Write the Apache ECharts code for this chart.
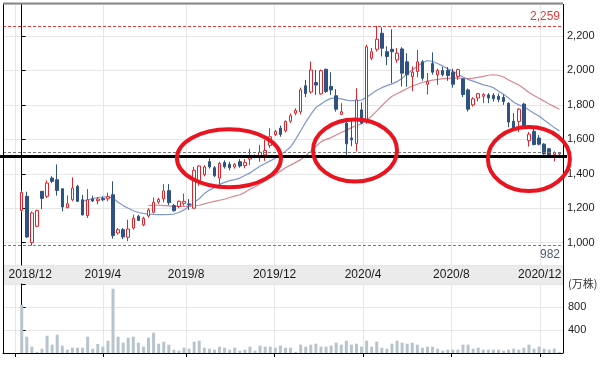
<!DOCTYPE html>
<html><head><meta charset="utf-8">
<script src="https://cdn.jsdelivr.net/npm/echarts@6/dist/echarts.min.js"></script>
<style>html,body{margin:0;padding:0;background:#fff}#c{width:613px;height:381px}</style>
</head><body><div id="c"></div>
<script>
// Weekly candles (week of 2019-04-29 had no trading days and is absent)
const weeks = [
'2018-12-10','2018-12-17','2018-12-24','2018-12-31',
'2019-01-07','2019-01-14','2019-01-21','2019-01-28','2019-02-04','2019-02-11','2019-02-18','2019-02-25',
'2019-03-04','2019-03-11','2019-03-18','2019-03-25','2019-04-01','2019-04-08','2019-04-15','2019-04-22',
'2019-05-06','2019-05-13','2019-05-20','2019-05-27','2019-06-03','2019-06-10','2019-06-17','2019-06-24',
'2019-07-01','2019-07-08','2019-07-15','2019-07-22','2019-07-29','2019-08-05','2019-08-12','2019-08-19','2019-08-26',
'2019-09-02','2019-09-09','2019-09-16','2019-09-23','2019-09-30','2019-10-07','2019-10-14','2019-10-21','2019-10-28',
'2019-11-04','2019-11-11','2019-11-18','2019-11-25','2019-12-02','2019-12-09','2019-12-16','2019-12-23','2019-12-30',
'2020-01-06','2020-01-13','2020-01-20','2020-01-27','2020-02-03','2020-02-10','2020-02-17','2020-02-24',
'2020-03-02','2020-03-09','2020-03-16','2020-03-23','2020-03-30','2020-04-06','2020-04-13','2020-04-20','2020-04-27',
'2020-05-04','2020-05-11','2020-05-18','2020-05-25','2020-06-01','2020-06-08','2020-06-15','2020-06-22','2020-06-29',
'2020-07-06','2020-07-13','2020-07-20','2020-07-27','2020-08-03','2020-08-10','2020-08-17','2020-08-24','2020-08-31',
'2020-09-07','2020-09-14','2020-09-21','2020-09-28','2020-10-05','2020-10-12','2020-10-19','2020-10-26',
'2020-11-02','2020-11-09','2020-11-16','2020-11-23','2020-11-30','2020-12-07','2020-12-14','2020-12-21','2020-12-28'];

const opens = [1187,1269,1000,1095,1298,1269,1375,1365,1313,1203,1249,1327,1249,1157,1253,1244,1257,1255,1278,1056,
1075,1031,1085,1153,1103,1155,1176,1236,1255,1302,1215,1210,1228,1225,1200,1360,1395,1470,1435,1375,
1465,1455,1440,1470,1448,1485,1505,1500,1510,1565,1628,1665,1650,1705,1752,1760,1911,1875,1930,1864,
2007,1907,1853,1745,1694,1607,1575,1771,1713,2071,2123,2216,2109,2123,2061,2125,2050,1965,1994,
2050,1920,2040,1975,2000,2000,1990,1965,1950,1887,1800,1840,1850,1858,1855,1850,1843,1810,1705,1704,
1805,1592,1646,1607,1572,1545,1512,1515];
const closes = [1292,1033,1172,1186,1257,1346,1356,1303,1207,1226,1317,1240,1161,1249,1242,1253,1249,1267,1041,1075,
1033,1079,1141,1129,1141,1190,1234,1250,1300,1232,1185,1240,1240,1220,1420,1445,1440,1440,1388,1460,
1440,1435,1455,1445,1465,1505,1498,1525,1535,1615,1645,1628,1704,1737,1768,1887,1866,2003,1915,1999,
1878,1887,1775,1760,1574,1597,1829,1694,2138,2109,2181,2129,2081,2109,2100,1984,1975,1990,2050,
1955,1936,1990,2000,1975,1970,1920,2005,1860,1775,1835,1865,1860,1840,1835,1832,1820,1700,1660,1775,
1680,1630,1570,1572,1515,1505,1522,1522];
const lows = [1176,1027,982,1090,1195,1259,1346,1273,1182,1199,1240,1236,1157,1143,1236,1222,1240,1240,1023,1046,
1021,1008,1075,1127,1095,1145,1170,1225,1235,1218,1180,1200,1215,1190,1195,1330,1385,1430,1380,1330,
1430,1420,1430,1435,1432,1450,1490,1470,1475,1550,1620,1615,1640,1695,1740,1745,1845,1865,1858,1860,
1870,1858,1761,1740,1510,1560,1530,1690,1690,2060,2110,2081,2030,1926,2045,1907,1905,1880,1960,
1940,1860,1975,1916,1965,1940,1900,1945,1845,1761,1790,1820,1810,1810,1820,1815,1800,1670,1655,1642,
1670,1558,1565,1565,1510,1500,1472,1510];
const highs = [1303,1296,1181,1192,1300,1361,1386,1454,1313,1274,1379,1336,1278,1311,1273,1265,1268,1290,1356,1085,
1085,1133,1162,1162,1150,1200,1262,1260,1340,1340,1225,1245,1285,1253,1440,1450,1450,1490,1445,1470,
1478,1470,1462,1485,1485,1545,1512,1568,1597,1665,1655,1680,1710,1750,1780,1900,1945,2051,2003,2005,
2010,1990,1891,1810,1700,1713,1897,1815,2150,2130,2259,2250,2140,2239,2130,2135,2100,2023,2119,
2060,1985,2105,2010,2020,2020,2010,2010,1955,1895,1845,1870,1868,1868,1868,1865,1860,1815,1752,1781,
1812,1642,1660,1625,1578,1550,1530,1525];
// volume, 万株
const volumes = [840,284,110,20,75,300,145,318,127,58,92,92,92,284,75,157,110,214,1119,284,
179,266,284,179,110,266,353,162,197,145,58,40,92,75,197,214,92,75,58,110,
92,58,92,40,58,110,40,127,110,110,92,127,92,92,20,145,110,145,162,110,
110,127,179,145,214,145,162,110,214,110,197,92,75,162,214,179,162,179,145,
92,110,110,75,40,58,58,58,145,145,75,92,58,58,58,58,40,58,75,58,
92,145,75,110,75,58,75,20];
// 13-week average, first value at week index 12
const ma13 = [1240,1248,1256,1262,1265,1266,1258,1235,1215,1200,1185,1175,1170,1166,1164,1163,1163,1164,1166,1175,
1190,1210,1235,1255,1285,1305,1320,1338,1350,1360,1366,1375,1390,1405,1425,1445,1460,1475,1490,1510,
1530,1555,1600,1650,1700,1745,1785,1805,1825,1838,1840,1835,1828,1824,1826,1828,1845,1865,1885,1900,
1912,1922,1935,1955,1980,2003,2025,2045,2058,2052,2040,2025,2010,1995,1978,1962,1948,1938,1928,1916,
1910,1900,1880,1862,1840,1815,1800,1790,1770,1752,1735,1712,1690,1668,1648];
// 26-week average, first value at week index 25
const ma26 = [1215,1218,1217,1215,1213,1211,1210,1210,1211,1213,1217,1225,1233,1240,1246,1252,1262,1270,1278,1292,
1310,1325,1342,1360,1378,1395,1415,1435,1450,1466,1482,1505,1530,1560,1585,1600,1610,1625,1640,1652,
1668,1680,1690,1710,1735,1765,1795,1825,1850,1865,1880,1895,1910,1920,1930,1938,1944,1948,1952,1954,
1955,1955,1954,1953,1955,1960,1966,1972,1975,1972,1962,1945,1930,1915,1895,1872,1855,1838,1822,1805,
1790,1775];
const monthStarts = ['2018-12-01','2019-04-01','2019-08-01','2019-12-01','2020-04-01','2020-08-01','2020-12-01'];
const monthLabels = ['2018/12','2019/4','2019/8','2019/12','2020/4','2020/8','2020/12'];
const volumeTicks = [400, 800];
const volumeUnit = '(万株)';
const supportLevel = 1500;
const circled = [['2019-09-29',1490],['2020-03-21',1535],['2020-11-16',1486]];

const dnum = s => { const p = s.split('-').map(Number); return Date.UTC(p[0], p[1]-1, p[2]) / 86400000; };
const W = weeks.map(dnum);
// position of a calendar date on the week-slot axis
function slotOf(s){
  const d = dnum(s); let i = -1;
  for (let k = 0; k < W.length; k++) if (W[k] <= d) i = k;
  return i < 0 ? (d - W[0]) / 7 : i + (d - W[i]) / 7;
}
const tickPos = monthStarts.map(slotOf);
const comma = v => String(Math.round(v)).replace(/\B(?=(\d{3})+(?!\d))/g, ',');

const candleData = weeks.map((w,i)=>[i, opens[i], closes[i], lows[i], highs[i]]);
const ma13Data = ma13.map((v,i)=>[i+12, v]);
const ma26Data = ma26.map((v,i)=>[i+25, v]);
const volData = volumes.map((v,i)=>[i, v]);

const GL = 3, GW = 560, G1T = 4, G1H = 261, G2T = 284, G2H = 69;
const X_MIN = -3.69, X_MAX = 106.72;
const FONT = 'Liberation Sans, Arial, sans-serif';
const GRID = '#e6e6e6';
const TXT = '#1a1a1a';

const chart = echarts.init(document.getElementById('c'), null, {renderer:'canvas'});
chart.setOption({
  animation:false,
  backgroundColor:'#fff',
  grid:[{left:GL, top:G1T, width:GW, height:G1H},{left:GL, top:G2T, width:GW, height:G2H}],
  xAxis:[
    {type:'value', gridIndex:0, min:X_MIN, max:X_MAX, scale:true,
     axisLine:{show:false}, axisTick:{show:false, customValues:tickPos},
     splitLine:{show:true, lineStyle:{color:GRID, width:1}},
     axisLabel:{show:true, customValues:tickPos, margin:4, color:TXT, fontSize:12, fontFamily:FONT, hideOverlap:false,
       formatter:(v)=>{ const i = tickPos.findIndex(p=>Math.abs(p-v)<1e-6); if(i<0) return ''; return i===0 ? '{f|'+monthLabels[i]+'}' : monthLabels[i]; },
       rich:{f:{padding:[0,0,0,30], fontSize:12, color:TXT, fontFamily:FONT}}}},
    {type:'value', gridIndex:1, min:X_MIN, max:X_MAX, scale:true,
     axisLine:{show:true, lineStyle:{color:'#000', width:1}},
     axisTick:{show:true, customValues:tickPos, length:4, inside:false, lineStyle:{color:'#000'}},
     splitLine:{show:true, lineStyle:{color:GRID, width:1}},
     axisLabel:{show:false, customValues:tickPos}}
  ],
  yAxis:[
    {type:'value', gridIndex:0, position:'right', min:870, max:2386, splitNumber:7, scale:true,
     axisLine:{show:true, lineStyle:{color:'#000'}},
     axisTick:{show:true, length:4, lineStyle:{color:'#000'}},
     splitLine:{show:true, lineStyle:{color:GRID}},
     axisLabel:{show:true, margin:4, fontSize:11, color:TXT, fontFamily:FONT, showMinLabel:false, showMaxLabel:false, hideOverlap:false, formatter:comma}},
    {type:'value', gridIndex:1, position:'right', min:0, max:1200, interval:400,
     axisLine:{show:true, lineStyle:{color:'#000'}},
     axisTick:{show:true, length:4, lineStyle:{color:'#000'}},
     splitLine:{show:true, lineStyle:{color:GRID}},
     axisLabel:{show:false}}
  ],
  series:[
    {type:'line', name:'MA26', xAxisIndex:0, yAxisIndex:0, data:ma26Data, showSymbol:false, symbol:'none',
     lineStyle:{color:'#d9868f', width:1.2}, z:2},
    {type:'line', name:'MA13', xAxisIndex:0, yAxisIndex:0, data:ma13Data, showSymbol:false, symbol:'none',
     lineStyle:{color:'#7f97cf', width:1.2}, z:2},
    {type:'candlestick', xAxisIndex:0, yAxisIndex:0, data:candleData, barWidth:3, z:3,
     itemStyle:{color:'#ffffff', color0:'#2f5285', borderColor:'#e3232b', borderColor0:'#2f5285', borderWidth:1},
     markLine:{symbol:'none', silent:true, animation:false,
       data:[
         {type:'max', valueDim:'highest', lineStyle:{color:'#e53a3a', type:[3,2], width:1},
          label:{show:true, position:'insideEndTop', formatter:p=>comma(p.value), color:'#e53a3a', fontSize:12, fontFamily:FONT, distance:3}},
         {type:'min', valueDim:'lowest', lineStyle:{color:'#6f7d92', type:[3,2], width:1},
          label:{show:true, position:'insideEndBottom', formatter:p=>comma(p.value), color:'#4b5a70', fontSize:12, fontFamily:FONT, distance:3}},
         {yAxis:closes[closes.length-1], lineStyle:{color:'#777', type:[3,2], width:1}, label:{show:false}}
       ]}},
    {type:'bar', xAxisIndex:1, yAxisIndex:1, data:volData, barWidth:3, itemStyle:{color:'#b7c4ce'}}
  ]
});

function annotate(){
  const yS = chart.convertToPixel({yAxisIndex:0}, supportLevel);
  const yU = chart.convertToPixel({yAxisIndex:1}, 1200);
  const ell = circled.map((c,i)=>{
    const p = chart.convertToPixel({xAxisIndex:0, yAxisIndex:0}, [slotOf(c[0]), c[1]]);
    const r = [[52,29],[42,31],[41,32]][i];
    return {type:'ellipse', shape:{cx:p[0], cy:p[1], rx:r[0], ry:r[1]}, style:{fill:'none', stroke:'#e8141f', lineWidth:4}, z:100};
  });
  const volLabels = volumeTicks.map(v=>({type:'text', x:GL+GW+5, y:chart.convertToPixel({yAxisIndex:1}, v),
    style:{text:String(v), fill:TXT, font:'11px "Liberation Sans", Arial, sans-serif', verticalAlign:'middle', align:'left'}, z:50}));
  chart.setOption({graphic:[
    {type:'rect', shape:{x:GL, y:G1T+G1H, width:GW, height:G2T-G1T-G1H}, style:{fill:'#ebebeb'}, z:-1, silent:true},
    {type:'line', shape:{x1:GL+0.5, y1:G1T, x2:GL+0.5, y2:G2T+G2H}, style:{stroke:'#000', lineWidth:1}, z:50},
    {type:'line', shape:{x1:GL+GW+0.5, y1:G1T, x2:GL+GW+0.5, y2:G2T+G2H}, style:{stroke:'#000', lineWidth:1}, z:50},
    {type:'line', shape:{x1:GL, y1:G1T-0.5, x2:GL+GW, y2:G1T-0.5}, style:{stroke:'#888', lineWidth:2}, z:50},
    {type:'text', x:GL+GW+5, y:yU, style:{text:volumeUnit, fill:'#333', font:'11px "Noto Sans CJK JP", sans-serif', verticalAlign:'middle', align:'left'}, z:50},
    {type:'line', shape:{x1:0, y1:yS, x2:GL+GW+4, y2:yS}, style:{stroke:'#000', lineWidth:3}, z:90}
  ].concat(volLabels, ell)});
}
annotate();
</script></body></html>
